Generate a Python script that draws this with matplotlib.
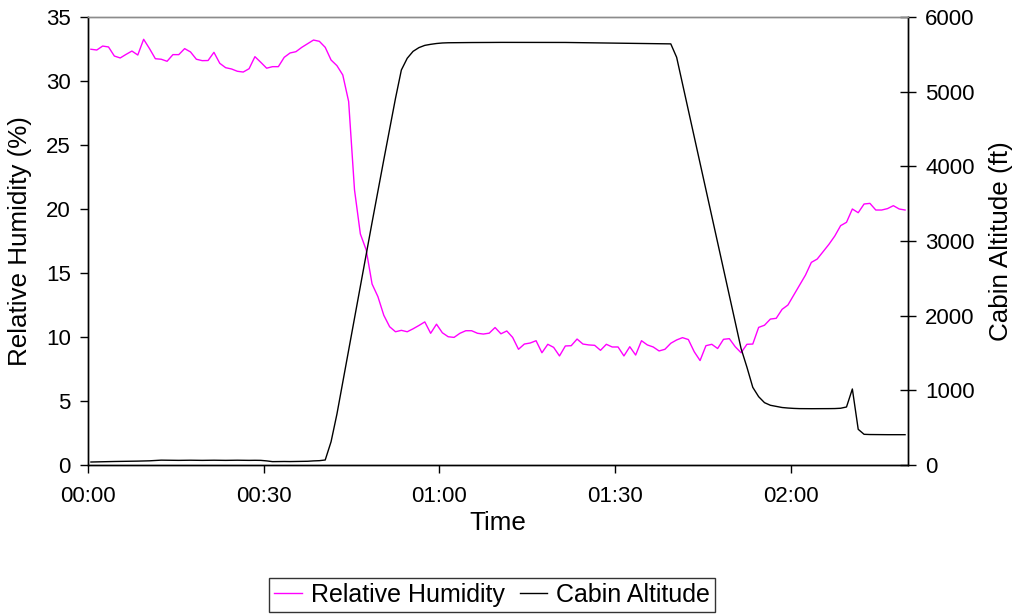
import matplotlib.pyplot as plt
import numpy as np
from matplotlib.ticker import FuncFormatter, MultipleLocator

plt.rcParams["font.family"] = ["Liberation Sans", "DejaVu Sans"]

# one sample per minute, first sample half a minute after 00:00
rel_humidity = [
    32.48, 32.42, 32.73, 32.66, 31.95, 31.80, 32.08, 32.34, 32.03, 33.26,
    32.53, 31.74, 31.70, 31.54, 32.06, 32.06, 32.53, 32.27, 31.70, 31.59,
    31.60, 32.24, 31.38, 31.04, 30.94, 30.76, 30.70, 30.96, 31.90, 31.46,
    31.00, 31.12, 31.12, 31.85, 32.19, 32.29, 32.63, 32.91, 33.20, 33.10,
    32.63, 31.64, 31.20, 30.47, 28.40, 21.50, 18.05, 16.80, 14.14, 13.15,
    11.70, 10.80, 10.41, 10.52, 10.41, 10.64, 10.90, 11.18, 10.29, 11.00,
    10.33, 10.02, 9.97, 10.29, 10.49, 10.49, 10.29, 10.23, 10.30, 10.74,
    10.25, 10.47, 9.97, 9.04, 9.45, 9.53, 9.71, 8.77, 9.43, 9.19,
    8.52, 9.30, 9.32, 9.84, 9.45, 9.38, 9.35, 8.96, 9.43, 9.22,
    9.22, 8.52, 9.24, 8.59, 9.71, 9.38, 9.22, 8.91, 9.04, 9.51,
    9.77, 9.95, 9.80, 8.85, 8.16, 9.32, 9.43, 9.10, 9.82, 9.87,
    9.24, 8.77, 9.43, 9.45, 10.75, 10.92, 11.40, 11.46, 12.16, 12.50,
    13.28, 14.06, 14.84, 15.83, 16.09, 16.67, 17.24, 17.89, 18.70, 18.96,
    20.00, 19.71, 20.39, 20.44, 19.92, 19.92, 20.03, 20.26, 20.00, 19.92,
]

cabin_altitude = [
    40, 42, 44, 45, 47, 48, 50, 51, 52, 54,
    56, 60, 65, 64, 63, 62, 63, 64, 63, 62,
    63, 64, 63, 62, 63, 64, 63, 62, 63, 62,
    55, 45, 46, 47, 46, 47, 48, 50, 55, 58,
    67, 312, 682, 1111, 1540, 1966, 2393, 2821, 3249, 3670,
    4087, 4501, 4911, 5290, 5447, 5540, 5590, 5620, 5634, 5645,
    5652, 5655, 5656, 5657, 5657, 5658, 5658, 5659, 5659, 5660,
    5660, 5660, 5660, 5660, 5661, 5661, 5661, 5660, 5660, 5660,
    5659, 5659, 5658, 5657, 5656, 5655, 5654, 5653, 5652, 5651,
    5650, 5649, 5648, 5647, 5646, 5645, 5644, 5643, 5642, 5640,
    5460, 5105, 4750, 4395, 4040, 3685, 3330, 2975, 2620, 2265,
    1910, 1560, 1310, 1040, 915, 835, 800, 785, 770, 763,
    758, 755, 754, 754, 754, 754, 755, 756, 760, 777,
    1018, 478, 411, 408, 407, 406, 406, 406, 406, 406,
]

minutes = np.arange(len(rel_humidity)) + 0.5


def hhmm(v, pos):
    v = int(round(v))
    return f"{v // 60:02d}:{v % 60:02d}"


fig = plt.figure(figsize=(10.21, 6.14), dpi=100)
ax = fig.add_axes([88 / 1021, 1 - 465 / 614, 820 / 1021, 448 / 614])
ax2 = ax.twinx()

ln1, = ax.plot(minutes, rel_humidity, color="#FF00FF", linewidth=1.0)
ln2, = ax2.plot(minutes, cabin_altitude, color="black", linewidth=1.0)

ax.set_xlim(0, 140)
ax.set_ylim(0, 35)
ax2.set_ylim(0, 6000)
ax.xaxis.set_major_locator(MultipleLocator(30))
ax.xaxis.set_major_formatter(FuncFormatter(hhmm))
ax.yaxis.set_major_locator(MultipleLocator(5))
ax2.yaxis.set_major_locator(MultipleLocator(1000))

for a in (ax, ax2):
    a.spines["top"].set_color("#8c8c8c")
    a.spines["top"].set_linewidth(1.0)
    for s in ("left", "right", "bottom"):
        a.spines[s].set_color("black")
        a.spines[s].set_linewidth(1.0)

ax.tick_params(axis="y", direction="out", length=5.5, width=1.0, labelsize=16, pad=7)
ax.tick_params(axis="x", direction="out", length=6, width=1.0, labelsize=16, pad=9)
ax2.tick_params(axis="y", direction="inout", length=11, width=1.0, labelsize=16, pad=7)

ax.set_xlabel("Time", fontsize=18.7, labelpad=3)
ax.set_ylabel("Relative Humidity (%)", fontsize=18.7, labelpad=10)
ax2.set_ylabel("Cabin Altitude (ft)", fontsize=18.7, labelpad=10)

leg = fig.legend(
    [ln1, ln2],
    ["Relative Humidity", "Cabin Altitude"],
    loc="center",
    bbox_to_anchor=(492 / 1021, 1 - 595 / 614),
    ncol=2,
    fontsize=18,
    frameon=True,
    fancybox=False,
    handlelength=1.1,
    handletextpad=0.35,
    columnspacing=0.6,
    borderpad=0.2,
    borderaxespad=0,
)
leg.get_frame().set_edgecolor("black")
leg.get_frame().set_linewidth(1.0)

fig.savefig("out.png", dpi=100)
